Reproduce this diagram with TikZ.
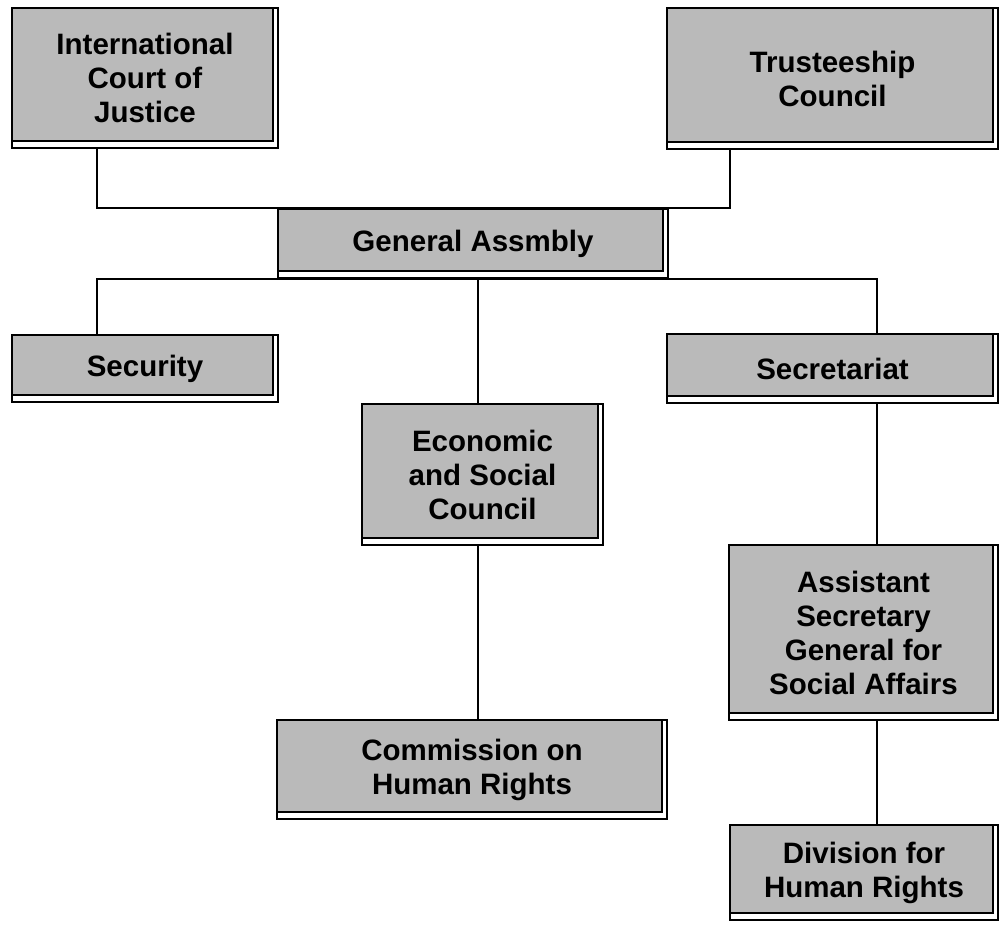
\documentclass[tikz,border=0pt]{standalone}
\usepackage{fontspec}
\setmainfont{Liberation Sans}
\usepackage{tikz}

\tikzset{
  orgbox/.style={draw, line width=2pt, align=center, inner sep=0pt,
    font=\fontsize{29.5}{34}\selectfont\bfseries,
    path picture={\draw[fill=black!27, line width=1.6pt]
      (path picture bounding box.north west) rectangle
      ([xshift=-5pt,yshift=7pt]path picture bounding box.south east);}},
  link/.style={line width=1.6pt}
}

\begin{document}
\begin{tikzpicture}[x=1pt,y=-1pt]
  \useasboundingbox (0,0) rectangle (1002,926);
  % columns of the connecting lines
  \coordinate (colL) at (97,0);
  \coordinate (colM) at (478,0);
  \coordinate (colT) at (730,0);
  \coordinate (colR) at (877,0);
  % the organs, outer frame sizes
  \node[orgbox, minimum width=266pt, minimum height=140pt] (icj) at (145,78)
    {International\\Court of\\Justice};
  \node[orgbox, minimum width=331pt, minimum height=141pt] (trust) at (832.5,78.5)
    {Trusteeship\\Council};
  \node[orgbox, minimum width=390pt, minimum height=69pt] (ga) at (473,243.5)
    {General Assmbly};
  \node[orgbox, minimum width=266pt, minimum height=67pt] (sec) at (145,368.5)
    {Security};
  \node[orgbox, minimum width=331pt, minimum height=69pt] (secr) at (832.5,368.5)
    {Secretariat};
  \node[orgbox, minimum width=241pt, minimum height=141pt] (ecosoc) at (482.5,474.5)
    {Economic\\and Social\\Council};
  \node[orgbox, minimum width=390pt, minimum height=99pt] (chr) at (472,769.5)
    {Commission on\\Human Rights};
  \node[orgbox, minimum width=269pt, minimum height=175pt] (asg) at (863.5,632.5)
    {Assistant\\Secretary\\General for\\Social Affairs};
  \node[orgbox, minimum width=268pt, minimum height=95pt] (dhr) at (864,872.5)
    {Division for\\Human Rights};
  % upper bus over the assembly
  \draw[link] (icj.south -| colL) |- (ga.north) -| (trust.south -| colT);
  % lower bus under the assembly
  \draw[link] (sec.north -| colL) |- (ga.south) -| (secr.north -| colR);
  \draw[link] (ga.south -| colM) -- (ecosoc.north -| colM);
  % chains below
  \draw[link] (ecosoc.south -| colM) -- (chr.north -| colM);
  \draw[link] (secr.south -| colR) -- (asg.north -| colR);
  \draw[link] (asg.south -| colR) -- (dhr.north -| colR);
\end{tikzpicture}
\end{document}
